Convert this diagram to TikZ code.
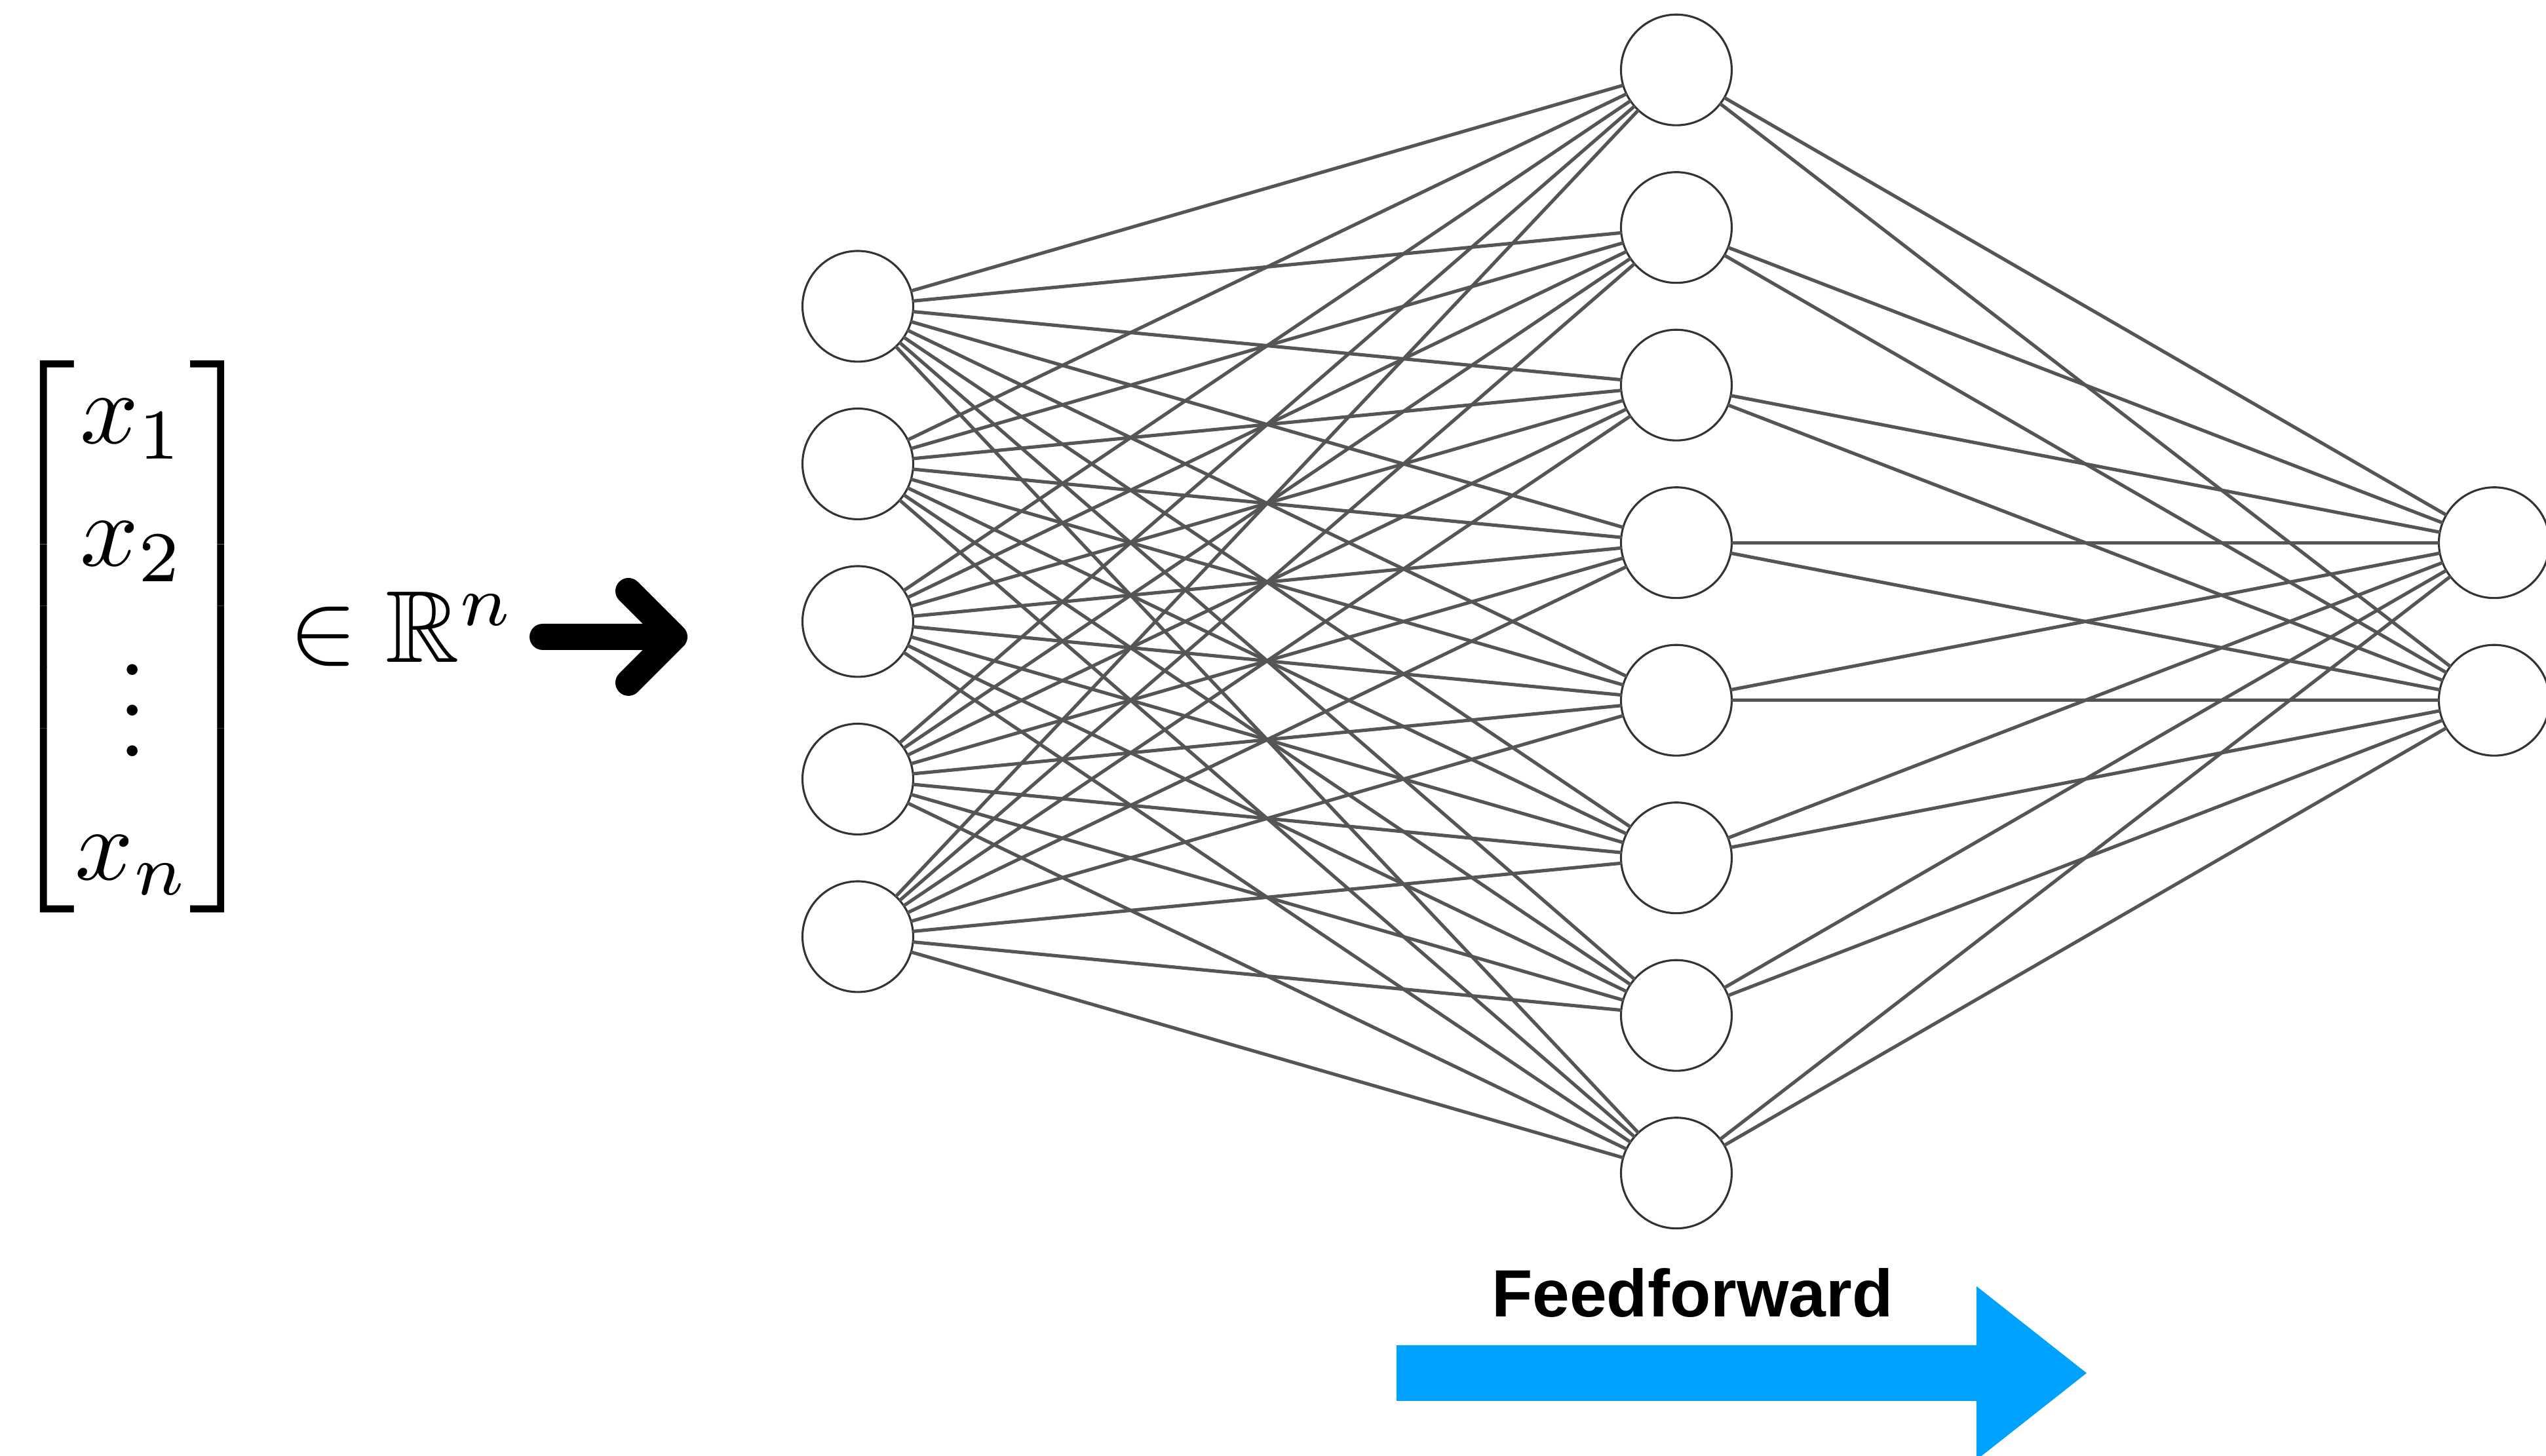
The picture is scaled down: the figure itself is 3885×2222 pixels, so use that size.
\documentclass[tikz,border=0pt]{standalone}
\usepackage{amsmath,amssymb}
\usepackage{fontspec}
\newfontfamily\labelsans{Liberation Sans}
\usetikzlibrary{arrows.meta}
\definecolor{ffBlue}{HTML}{00A2FF}
\definecolor{ffEdge}{HTML}{555555}
\definecolor{ffRing}{HTML}{333333}

\begin{document}
\begin{tikzpicture}[x=0.0641pt,y=-0.0641pt,line cap=round,line join=round]
\path[fill=white] (0,0) rectangle (3885,2222);
\useasboundingbox (0,0) rectangle (3885,2222);
\tikzset{neuron/.style={circle,draw=ffRing,fill=white,line width=0.2pt,minimum size=10.83pt,inner sep=0pt},edge/.style={draw=ffEdge,line width=0.33pt},bigarrow/.style={draw=black,line width=2.56pt}}
\node[inner sep=0pt] (vec) at (202,972) {$\begin{bmatrix} x_1\\ x_2\\ \vdots\\ x_n \end{bmatrix}$};
\node[anchor=base west,inner sep=0pt] (member) at (438,1011) {$\in \mathbb{R}^n$};
\coordinate (arrowtail) at (828,972); \coordinate (arrowtip) at (1029,972);
\draw[bigarrow] (arrowtail) -- (arrowtip) -- +(-70,-70) (arrowtip) -- +(-70,70);
\foreach \i in {1,...,5} \node[neuron] (in\i) at (1309,{948.5+(\i-3)*240.5}) {};
\foreach \j in {1,...,8} \node[neuron] (hid\j) at (2558,{948.5+(\j-4.5)*240.5}) {};
\foreach \k in {1,2} \node[neuron] (out\k) at (3806,{948.5+(\k-1.5)*240.5}) {};
\foreach \i in {1,...,5} \foreach \j in {1,...,8} \draw[edge] (in\i) -- (hid\j);
\foreach \j in {1,...,8} \foreach \k in {1,2} \draw[edge] (hid\j) -- (out\k);
\fill[ffBlue] (2131,2053) -- (3016,2053) -- (3016,1963) -- (3184,2095.5) -- (3016,2228) -- (3016,2138) -- (2131,2138) -- cycle;
\node[anchor=base west,inner sep=0pt,font=\labelsans\bfseries\fontsize{6.54pt}{8pt}\selectfont] (fflabel) at (2273,2010) {Feedforward};
\end{tikzpicture}
\end{document}
